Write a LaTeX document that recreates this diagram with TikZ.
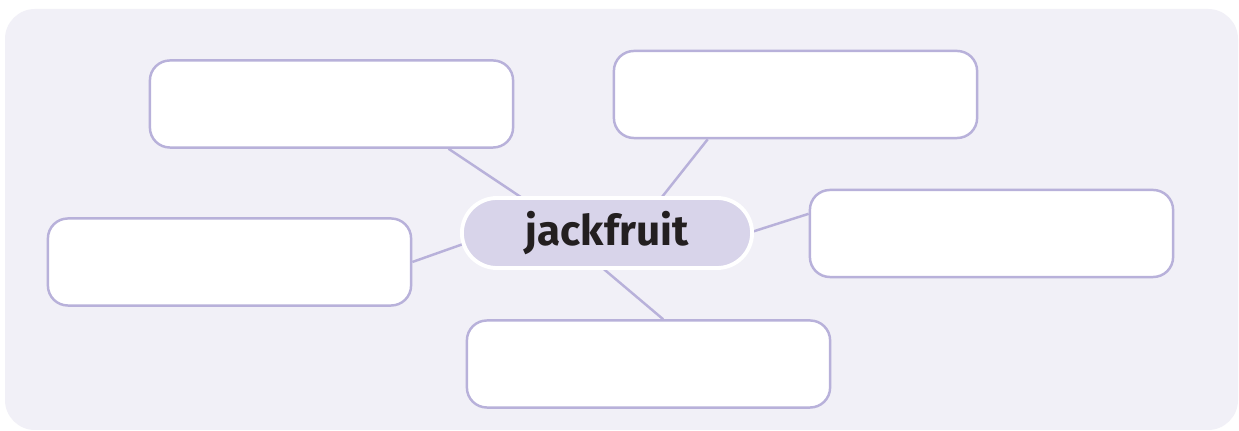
\documentclass[tikz,border=0pt]{standalone}
\usepackage{fontspec}
\newfontfamily\labelfont{Fira Sans}
\usetikzlibrary{calc,shapes.misc}

\definecolor{panel}{HTML}{F1F0F7}
\definecolor{rim}{HTML}{B8B1DA}
\definecolor{hub}{HTML}{D8D4EA}
\definecolor{ink}{HTML}{231F20}

\pgfdeclarelayer{back}
\pgfdeclarelayer{links}
\pgfsetlayers{back,links,main}

\tikzset{
  leaf/.style={draw=rim, line width=0.7pt, fill=white, rounded corners=0.2cm,
    minimum width=3.63cm, minimum height=0.87cm, inner sep=0pt},
  hubnode/.style={rounded rectangle, draw=white, line width=1.1pt, fill=hub,
    minimum width=2.9cm, minimum height=0.7cm, inner sep=0pt, text=ink,
    font=\labelfont\bfseries\fontsize{12}{14}\selectfont},
  link/.style={draw=rim, line width=0.7pt}
}

\begin{document}
\begin{tikzpicture}[x=0.01cm, y=-0.01cm]

\useasboundingbox (0,0) rectangle (1239,431);

\begin{pgfonlayer}{back}
\fill[white] (0,0) rectangle (1239,431);
\fill[panel, rounded corners=0.3cm] (5,9) rectangle (1238,430);
\end{pgfonlayer}

\node[hubnode] (jack) at (607,233) {jackfruit};

\node[leaf] (topleft)  at (331.5,104) {};
\node[leaf] (topright) at (795.5,94.5) {};
\node[leaf] (right)    at (991.5,233.5) {};
\node[leaf] (left)     at (229.5,262) {};
\node[leaf] (bottom)   at (648.5,364) {};

\begin{pgfonlayer}{links}
\draw[link] ($(topleft.south west)!0.82!(topleft.south east)$) -- ($(jack.west)!0.39!(jack.east)$);
\draw[link] ($(topright.south west)!0.26!(topright.south east)$) -- ($(jack.west)!0.59!(jack.east)$);
\draw[link] ($(right.north west)!0.28!(right.south west)$) -- ($(jack.center)+(110,10)$);
\draw[link] (left.east) -- ($(jack.center)+(-90,-8)$);
\draw[link] ($(bottom.north west)!0.54!(bottom.north east)$) -- ($(jack.center)+(-27,16)$);
\end{pgfonlayer}

\end{tikzpicture}
\end{document}
